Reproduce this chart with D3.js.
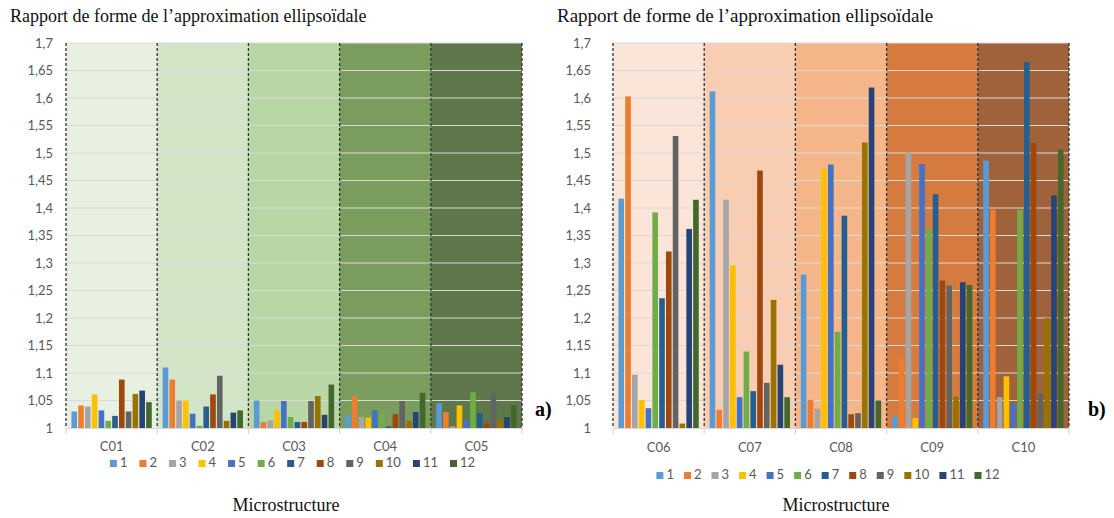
<!DOCTYPE html>
<html>
<head>
<meta charset="utf-8">
<script src="https://cdn.jsdelivr.net/npm/d3@7"></script>
<style>
  body { margin: 0; background: #fff; }
  svg { display: block; }
</style>
</head>
<body>
<svg id="fig" width="1114" height="518"></svg>
<script>
// Aspect ratio of the ellipsoidal approximation, per microstructure (12 grains each)
const seriesNames = ["1", "2", "3", "4", "5", "6", "7", "8", "9", "10", "11", "12"];

const categoriesA = ["C01", "C02", "C03", "C04", "C05"];
const valuesA = [
  [1.030, 1.041, 1.039, 1.061, 1.032, 1.013, 1.022, 1.088, 1.030, 1.062, 1.068, 1.047],
  [1.110, 1.088, 1.050, 1.050, 1.026, 1.004, 1.039, 1.061, 1.095, 1.013, 1.028, 1.032],
  [1.050, 1.011, 1.014, 1.032, 1.049, 1.020, 1.011, 1.011, 1.049, 1.058, 1.024, 1.079],
  [1.023, 1.058, 1.020, 1.019, 1.032, 1.025, 1.003, 1.025, 1.049, 1.013, 1.029, 1.064],
  [1.045, 1.029, 1.003, 1.041, 1.014, 1.065, 1.027, 1.008, 1.063, 1.014, 1.020, 1.041]
];

const categoriesB = ["C06", "C07", "C08", "C09", "C10"];
const valuesB = [
  [1.417, 1.603, 1.097, 1.051, 1.036, 1.392, 1.236, 1.321, 1.531, 1.008, 1.362, 1.415],
  [1.612, 1.033, 1.415, 1.296, 1.056, 1.139, 1.067, 1.468, 1.082, 1.233, 1.115, 1.056],
  [1.279, 1.051, 1.035, 1.471, 1.479, 1.175, 1.386, 1.025, 1.027, 1.519, 1.619, 1.050],
  [1.021, 1.127, 1.501, 1.018, 1.480, 1.362, 1.425, 1.268, 1.259, 1.057, 1.265, 1.260],
  [1.486, 1.397, 1.056, 1.094, 1.044, 1.397, 1.665, 1.518, 1.062, 1.200, 1.423, 1.506]
];

const yTicks = [1, 1.05, 1.1, 1.15, 1.2, 1.25, 1.3, 1.35, 1.4, 1.45, 1.5, 1.55, 1.6, 1.65, 1.7];

const seriesColors = ["#5b9bd5", "#ed7d31", "#a5a5a5", "#ffc000", "#4472c4", "#70ad47",
                      "#255e91", "#9e480e", "#636363", "#997300", "#264478", "#43682b"];
const bandFillsA = ["#e8f0e1", "#d3e5c7", "#b9d7a4", "#7a9c5d", "#5f784b"];
const bandFillsB = ["#fbe5d9", "#f8cdb1", "#f5b68a", "#d57b3f", "#a0623b"];

const fr = d3.formatLocale({ decimal: ",", thousands: " ", grouping: [3], currency: ["", " €"] });
const tickFmt = fr.format(".2~f");

const svg = d3.select("#fig");
const SANS = "Lato, 'Open Sans', sans-serif";
const SERIF = "'Liberation Serif', 'Times New Roman', serif";

function drawChart(cfg) {
  const g = svg.append("g");

  const y = d3.scaleLinear().domain([1, 1.7]).range([cfg.bottom, cfg.top]);
  const x0 = d3.scaleBand().domain(cfg.categories).range([cfg.left, cfg.right]).padding(0);
  const x1 = d3.scaleBand().domain(seriesNames).range([0, x0.bandwidth()])
    .paddingInner(0.17).paddingOuter(0.8);

  // coloured background for each microstructure
  g.selectAll("rect.band").data(cfg.categories).join("rect")
    .attr("class", "band")
    .attr("x", d => x0(d)).attr("y", cfg.top)
    .attr("width", x0.bandwidth()).attr("height", cfg.bottom - cfg.top)
    .attr("fill", (d, i) => cfg.fills[i]);

  // horizontal gridlines
  g.selectAll("line.grid").data(yTicks.slice(1)).join("line")
    .attr("class", "grid")
    .attr("x1", cfg.left).attr("x2", cfg.right)
    .attr("y1", d => y(d)).attr("y2", d => y(d))
    .attr("stroke", "#d9d9d9").attr("stroke-width", 1.2);

  // bars
  const groups = g.selectAll("g.cat").data(cfg.categories).join("g")
    .attr("class", "cat")
    .attr("transform", d => `translate(${x0(d)},0)`);
  groups.selectAll("rect").data((d, i) => cfg.values[i].map((v, j) => ({ s: seriesNames[j], v, j })))
    .join("rect")
    .attr("x", d => x1(d.s))
    .attr("y", d => y(d.v))
    .attr("width", x1.bandwidth())
    .attr("height", d => y(1) - y(d.v))
    .attr("fill", d => seriesColors[d.j]);

  // dashed separators between microstructures
  const edges = cfg.categories.map(c => x0(c)).concat([cfg.right]);
  g.selectAll("line.sep").data(edges).join("line")
    .attr("class", "sep")
    .attr("x1", d => d).attr("x2", d => d)
    .attr("y1", cfg.top).attr("y2", cfg.bottom)
    .attr("stroke", "#333").attr("stroke-width", 1.3)
    .attr("stroke-dasharray", "3,2");

  // category axis
  const xAxis = g.append("g")
    .attr("transform", `translate(0,${cfg.bottom})`)
    .call(d3.axisBottom(x0).tickSize(0).tickPadding(cfg.catPad));
  xAxis.select(".domain").attr("stroke", "#d9d9d9").attr("stroke-width", 1.2);
  xAxis.selectAll("text").attr("fill", "#595959")
    .style("font-family", SANS).style("font-size", "13px");
  g.selectAll("line.xtick").data(edges).join("line")
    .attr("class", "xtick")
    .attr("x1", d => d).attr("x2", d => d)
    .attr("y1", cfg.bottom).attr("y2", cfg.bottom + 6)
    .attr("stroke", "#d9d9d9").attr("stroke-width", 1.2);

  // value axis
  const yAxis = g.append("g")
    .attr("transform", `translate(${cfg.left},0)`)
    .call(d3.axisLeft(y).tickValues(yTicks).tickFormat(tickFmt).tickSize(0).tickPadding(cfg.yPad));
  yAxis.select(".domain").remove();
  yAxis.selectAll("text").attr("fill", "#595959")
    .style("font-family", SANS).style("font-size", "13px");

  // legend
  const leg = g.append("g").attr("transform", `translate(0,${cfg.legendY})`);
  const items = leg.selectAll("g").data(seriesNames).join("g");
  items.append("rect").attr("width", 7).attr("height", 7).attr("y", -7)
    .attr("fill", (d, i) => seriesColors[i]);
  items.append("text").text(d => d)
    .attr("x", 10).attr("y", 0)
    .attr("fill", "#595959")
    .style("font-family", SANS).style("font-size", "13px");
  let cx = 0;
  const pos = [];
  items.each(function () {
    pos.push(cx);
    const w = this.querySelector("text").getComputedTextLength();
    cx += 10 + w + cfg.legendGap;
  });
  const total = cx - cfg.legendGap;
  const start = cfg.legendCenter - total / 2;
  items.attr("transform", (d, i) => `translate(${start + pos[i]},0)`);

  // titles
  g.append("text").text("Rapport de forme de l\u2019approximation ellipso\u00efdale")
    .attr("x", cfg.titleX).attr("y", 22)
    .attr("fill", "#111")
    .style("font-family", SERIF).style("font-size", cfg.titleSize + "px");
  g.append("text").text("Microstructure")
    .attr("x", cfg.axisTitleX).attr("y", 511)
    .attr("text-anchor", "middle")
    .attr("fill", "#111")
    .style("font-family", SERIF).style("font-size", "18px");
  g.append("text").text(cfg.tag)
    .attr("x", cfg.tagX).attr("y", 416)
    .attr("fill", "#000")
    .style("font-family", SERIF).style("font-size", "20px").style("font-weight", "bold");
}

drawChart({
  categories: categoriesA, values: valuesA, fills: bandFillsA,
  left: 66, right: 522, top: 43, bottom: 428,
  yPad: 13, catPad: 14,
  legendY: 467, legendCenter: 292.5, legendGap: 12,
  titleX: 10, titleSize: 18, axisTitleX: 286, tag: "a)", tagX: 535
});

drawChart({
  categories: categoriesB, values: valuesB, fills: bandFillsB,
  left: 613, right: 1069, top: 43, bottom: 428,
  yPad: 22, catPad: 15,
  legendY: 479, legendCenter: 828, legendGap: 10,
  titleX: 557, titleSize: 19, axisTitleX: 836, tag: "b)", tagX: 1088
});
</script>
</body>
</html>
